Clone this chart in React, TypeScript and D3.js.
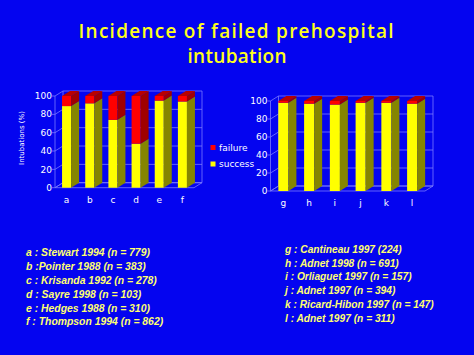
import React from "react";
import * as d3 from "d3";

const leftCats = ["a", "b", "c", "d", "e", "f"];
const leftSuccess = [89, 92, 74, 48, 95, 94];
const leftFailure = [11, 8, 26, 52, 5, 6];

const rightCats = ["g", "h", "i", "j", "k", "l"];
const rightSuccess = [98, 97, 96, 98, 98, 97];
const rightFailure = [2, 3, 4, 2, 2, 3];

const yTicks = [0, 20, 40, 60, 80, 100];

const titleLines = ["Incidence of failed prehospital", "intubation"];
const leftRefs = [
  "a : Stewart 1994 (n = 779)",
  "b :Pointer 1988 (n = 383)",
  "c : Krisanda 1992 (n = 278)",
  "d : Sayre 1998 (n = 103)",
  "e : Hedges 1988 (n = 310)",
  "f : Thompson 1994 (n = 862)",
];
const rightRefs = [
  "g : Cantineau 1997 (224)",
  "h : Adnet 1998 (n = 691)",
  "i : Orliaguet 1997 (n = 157)",
  "j : Adnet 1997 (n = 394)",
  "k : Ricard-Hibon 1997 (n = 147)",
  "l : Adnet 1997 (n = 311)",
];
const legendLabels = ["failure", "success"];

const BG = "#0404f0";
const GRID = "#7878ff";
const COLORS = {
  success: { front: "#ffff00", side: "#858500", top: "#cccc00" },
  failure: { front: "#ff0000", side: "#a00000", top: "#b80000" },
};
const FONT = "DejaVu Sans, Verdana, sans-serif";

type ChartProps = {
  cats: string[];
  success: number[];
  failure: number[];
  x0: number;
  x1: number;
  yBottom: number;
  yTop: number;
  dx: number;
  dy: number;
};

function Chart3D({ cats, success, failure, x0, x1, yBottom, yTop, dx, dy }: ChartProps) {
  const x = d3.scaleBand<string>().domain(cats).range([x0, x1]).paddingInner(0.61).paddingOuter(0.305);
  const y = d3.scaleLinear().domain([0, 100]).range([yBottom, yTop]);
  const w = x.bandwidth();
  const pts = (arr: [number, number][]) => arr.map((p) => p.join(",")).join(" ");

  return (
    <g>
      {yTicks.map((t) => (
        <g key={"g" + t}>
          <line x1={x0} y1={y(t)} x2={x0 + dx} y2={y(t) + dy} stroke={GRID} strokeWidth={0.8} />
          <line x1={x0 + dx} y1={y(t) + dy} x2={x1 + dx} y2={y(t) + dy} stroke={GRID} strokeWidth={0.8} />
          <line x1={x0 - 3} y1={y(t)} x2={x0} y2={y(t)} stroke={GRID} strokeWidth={0.8} />
          <text
            x={x0 - 3}
            y={y(t)}
            dy="0.35em"
            textAnchor="end"
            fill="#ffffff"
            fontFamily={FONT}
            fontSize={9}
          >
            {t}
          </text>
        </g>
      ))}
      <line x1={x0} y1={y(0)} x2={x0} y2={y(100)} stroke={GRID} strokeWidth={0.8} />
      <line x1={x0 + dx} y1={y(0) + dy} x2={x0 + dx} y2={y(100) + dy} stroke={GRID} strokeWidth={0.8} />
      <line x1={x1 + dx} y1={y(0) + dy} x2={x1 + dx} y2={y(100) + dy} stroke={GRID} strokeWidth={0.8} />
      <polygon
        points={pts([
          [x0, y(0)],
          [x1, y(0)],
          [x1 + dx, y(0) + dy],
          [x0 + dx, y(0) + dy],
        ])}
        fill="none"
        stroke={GRID}
        strokeWidth={0.8}
      />
      {cats.map((c, i) => {
        const bx = x(c)!;
        const segs = [
          { v0: 0, v1: success[i], col: COLORS.success },
          { v0: success[i], v1: success[i] + failure[i], col: COLORS.failure },
        ];
        return (
          <g key={c}>
            {segs.map((s, k) => {
              const ya = y(s.v0);
              const yb = y(s.v1);
              return (
                <g key={k}>
                  <rect x={bx} y={yb} width={w} height={ya - yb} fill={s.col.front} />
                  <polygon
                    points={pts([
                      [bx + w, ya],
                      [bx + w + dx, ya + dy],
                      [bx + w + dx, yb + dy],
                      [bx + w, yb],
                    ])}
                    fill={s.col.side}
                  />
                  {k === segs.length - 1 && (
                    <polygon
                      points={pts([
                        [bx, yb],
                        [bx + w, yb],
                        [bx + w + dx, yb + dy],
                        [bx + dx, yb + dy],
                      ])}
                      fill={s.col.top}
                    />
                  )}
                </g>
              );
            })}
            <text
              x={bx + w / 2}
              y={yBottom + 12}
              dy="0.35em"
              textAnchor="middle"
              fill="#ffffff"
              fontFamily={FONT}
              fontSize={9}
            >
              {c}
            </text>
          </g>
        );
      })}
    </g>
  );
}

export default function App() {
  const TITLE_FONT = "Open Sans, DejaVu Sans, sans-serif";
  return (
    <svg
      width={474}
      height={355}
      style={{ position: "absolute", left: 0, top: 0, display: "block" }}
    >
      <rect x={0} y={0} width={474} height={355} fill={BG} />
      <text
        x={236}
        y={38}
        textAnchor="middle"
        fill="#ffff1a"
        fontFamily={TITLE_FONT}
        fontWeight={600}
        fontSize={19}
        textLength={315}
        lengthAdjust="spacing"
      >
        {titleLines[0]}
      </text>
      <text
        x={237}
        y={63}
        textAnchor="middle"
        fill="#ffff1a"
        fontFamily={TITLE_FONT}
        fontWeight={600}
        fontSize={19}
        textLength={99}
        lengthAdjust="spacing"
      >
        {titleLines[1]}
      </text>

      <text
        transform="translate(22,138) rotate(-90)"
        textAnchor="middle"
        dy="0.35em"
        fill="#ffffff"
        fontFamily={FONT}
        fontSize={7}
      >
        Intubations (%)
      </text>

      <Chart3D
        cats={leftCats}
        success={leftSuccess}
        failure={leftFailure}
        x0={55}
        x1={194}
        yBottom={187.7}
        yTop={96}
        dx={8}
        dy={-5}
      />
      <Chart3D
        cats={rightCats}
        success={rightSuccess}
        failure={rightFailure}
        x0={270.5}
        x1={425}
        yBottom={191}
        yTop={101}
        dx={8}
        dy={-5}
      />

      {legendLabels.map((l, i) => (
        <g key={l}>
          <rect
            x={210.5}
            y={145 + i * 16.5}
            width={5}
            height={5}
            fill={i === 0 ? COLORS.failure.front : COLORS.success.front}
          />
          <text
            x={219}
            y={147.5 + i * 16.5}
            dy="0.35em"
            fill="#ffffff"
            fontFamily={FONT}
            fontSize={9}
          >
            {l}
          </text>
        </g>
      ))}

      {leftRefs.map((r, i) => (
        <text
          key={r}
          x={26}
          y={252.7 + i * 13.8}
          dy="0.35em"
          fill="#ffff70"
          fontFamily="Liberation Sans, Arial, sans-serif"
          fontWeight="bold"
          fontStyle="italic"
          fontSize={10.4}
        >
          {r}
        </text>
      ))}
      {rightRefs.map((r, i) => (
        <text
          key={r}
          x={285}
          y={249.3 + i * 13.8}
          dy="0.35em"
          fill="#ffff70"
          fontFamily="Liberation Sans, Arial, sans-serif"
          fontWeight="bold"
          fontStyle="italic"
          fontSize={10.2}
        >
          {r}
        </text>
      ))}
    </svg>
  );
}
